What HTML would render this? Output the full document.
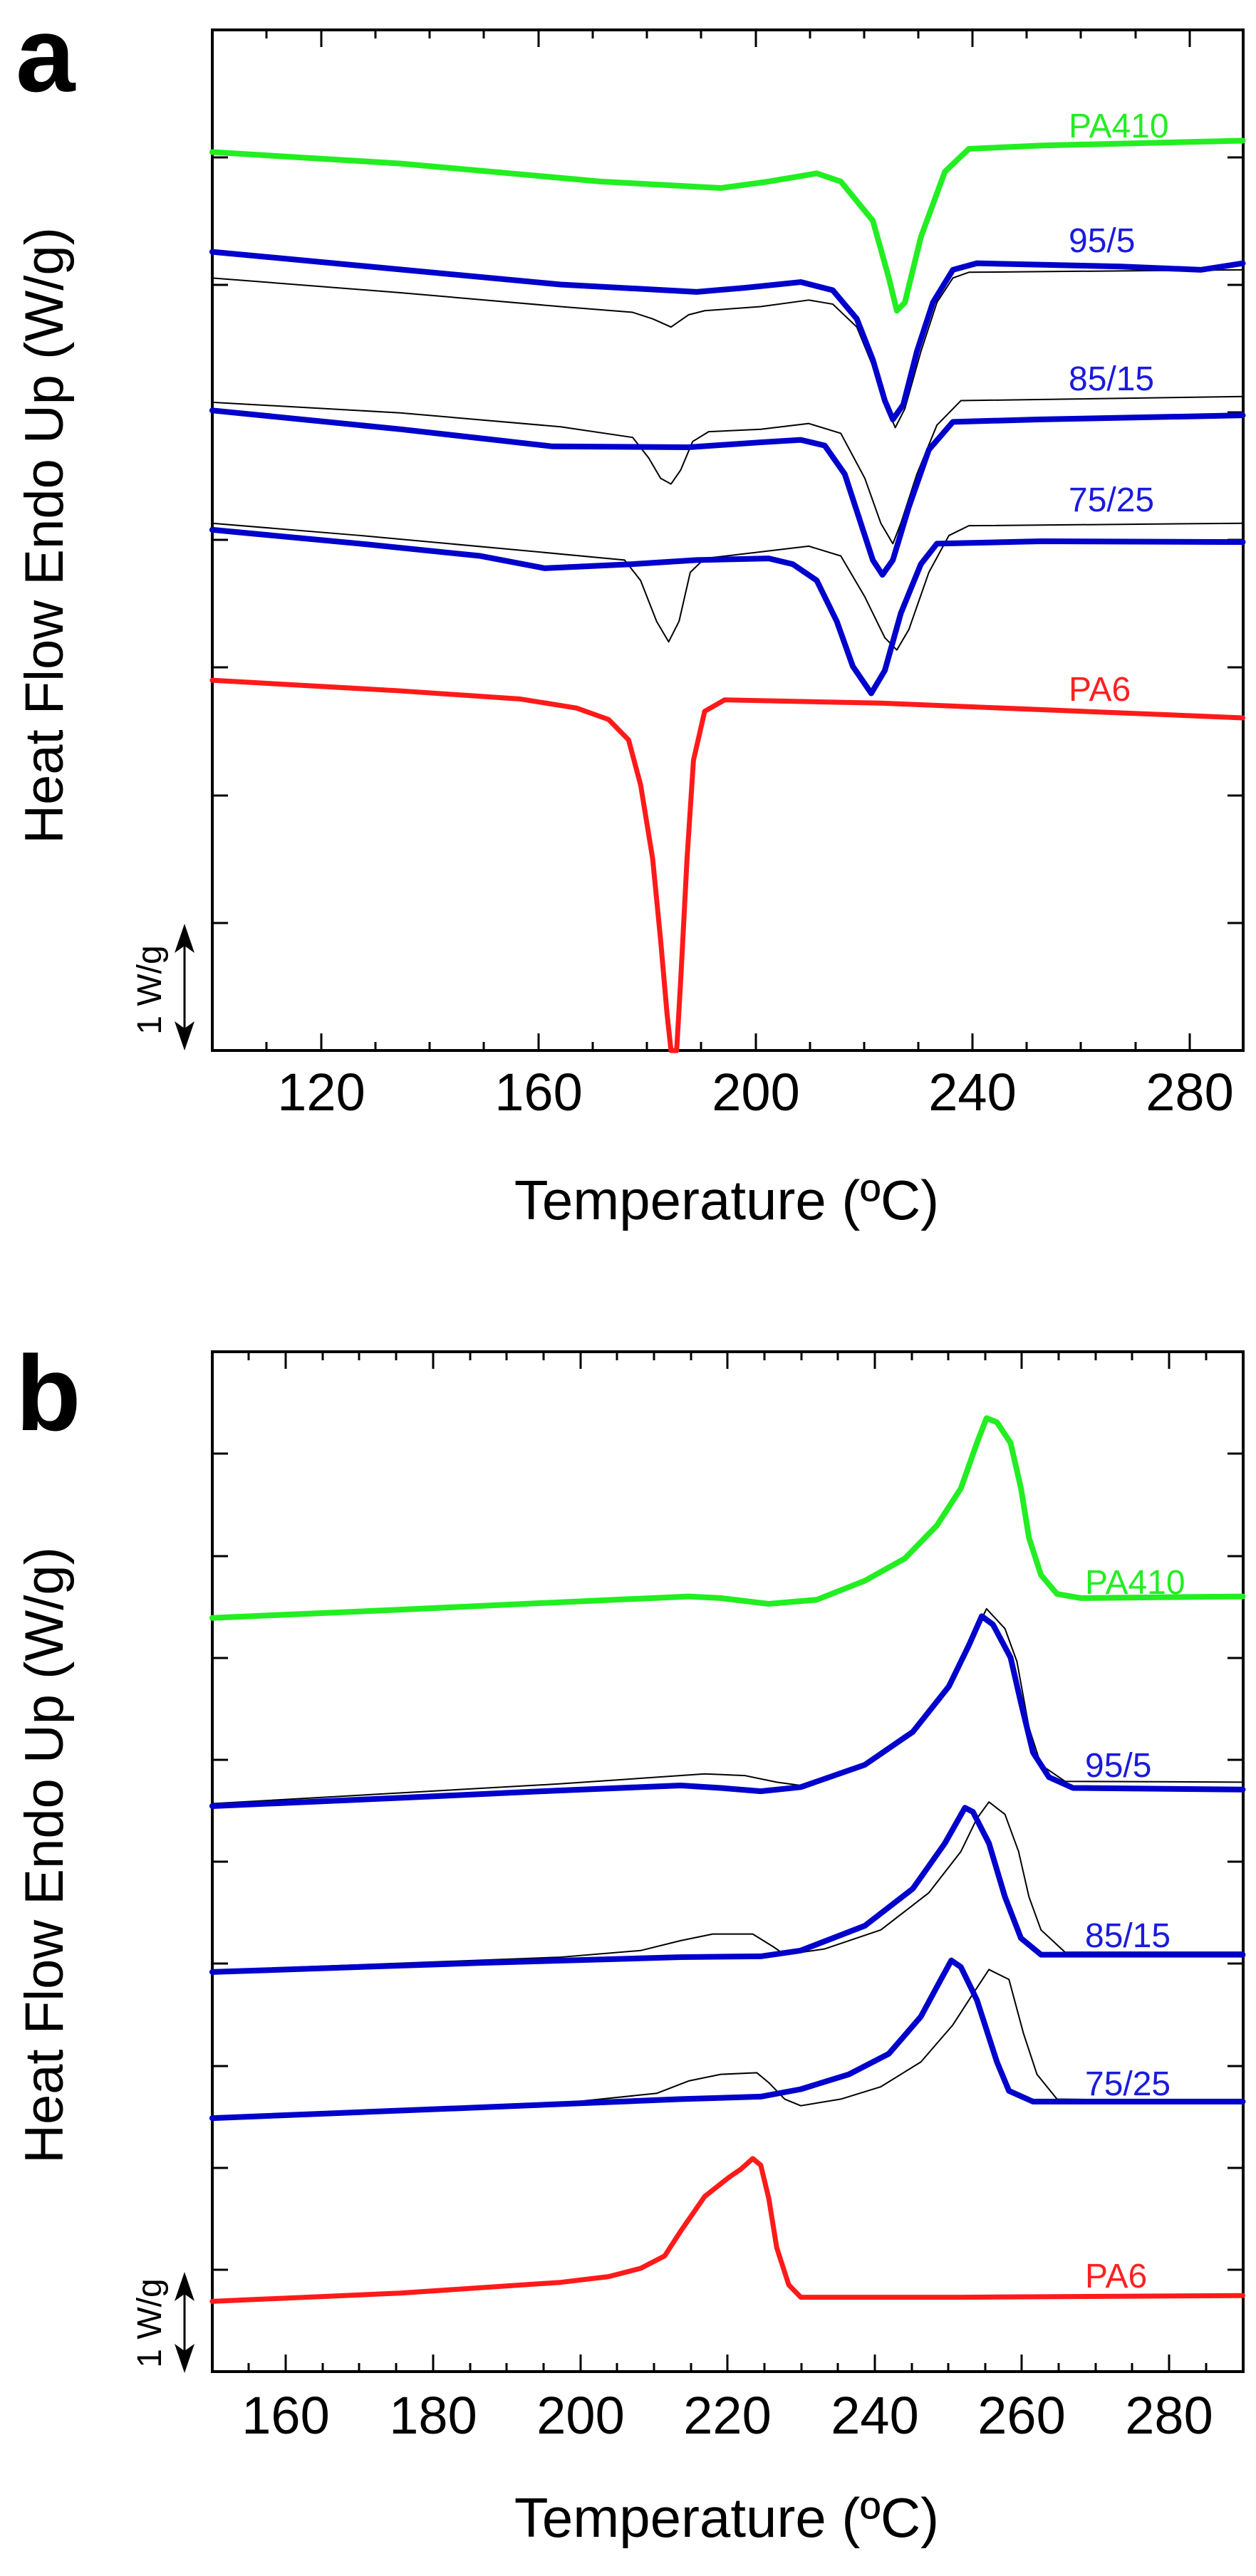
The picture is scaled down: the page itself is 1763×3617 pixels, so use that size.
<!DOCTYPE html>
<html><head><meta charset="utf-8"><style>
html,body{margin:0;padding:0;background:#fff;}
svg{display:block;font-family:"Liberation Sans",Arial,sans-serif;}
</style></head><body>
<svg width="1763" height="3617" viewBox="0 0 1763 3617" xmlns="http://www.w3.org/2000/svg">
<!-- PANEL A -->
<text x="22" y="128" font-size="150" font-weight="bold">a</text>
<text transform="translate(88,752) rotate(-90)" font-size="76" text-anchor="middle">Heat Flow Endo Up (W/g)</text>
<text x="1020" y="1712" font-size="78" text-anchor="middle">Temperature (ºC)</text>
<g font-size="74" text-anchor="middle">
<text x="451" y="1559">120</text><text x="756" y="1559">160</text><text x="1061" y="1559">200</text><text x="1365" y="1559">240</text><text x="1670" y="1559">280</text>
</g>
<rect x="298" y="42" width="1447" height="1433" fill="none" stroke="#000" stroke-width="4"/>
<g stroke="#000" stroke-width="3">
<path d="M374,1475v-12M451,1475v-24M527,1475v-12M603,1475v-12M679,1475v-12M756,1475v-24M832,1475v-12M908,1475v-12M984,1475v-12M1061,1475v-24M1137,1475v-12M1213,1475v-12M1289,1475v-12M1365,1475v-24M1441,1475v-12M1517,1475v-12M1594,1475v-12M1670,1475v-24"/>
<path d="M374,42v12M451,42v24M527,42v12M603,42v12M679,42v12M756,42v24M832,42v12M908,42v12M984,42v12M1061,42v24M1137,42v12M1213,42v12M1289,42v12M1365,42v24M1441,42v12M1517,42v12M1594,42v12M1670,42v24"/>
<path d="M298,221h22M298,400h22M298,579h22M298,758h22M298,937h22M298,1117h22M298,1296h22"/>
<path d="M1745,221h-22M1745,400h-22M1745,579h-22M1745,758h-22M1745,937h-22M1745,1117h-22M1745,1296h-22"/>
<path d="M259,1305V1465"/>
</g>
<path d="M259,1297 L245,1338 L259,1328 L273,1338 Z M259,1475 L245,1434 L259,1444 L273,1434 Z" fill="#000"/>
<text transform="translate(226,1390) rotate(-90)" font-size="48" text-anchor="middle">1 W/g</text>
<g font-size="48">
<text x="1500" y="193" fill="#22ee22">PA410</text>
<text x="1500" y="354" fill="#1a1add">95/5</text>
<text x="1500" y="548" fill="#1a1add">85/15</text>
<text x="1500" y="718" fill="#1a1add">75/25</text>
<text x="1500" y="984" fill="#ff2020">PA6</text>
</g>
<g transform="scale(1.124,1.148)" fill="none" stroke-linejoin="round" stroke-linecap="round">
<polyline vector-effect="non-scaling-stroke" stroke="#000" stroke-width="2" points="265,340 500,358 700,375 790,382 815,390 838,400 860,385 880,380 950,375 1010,367 1040,372 1070,400 1095,460 1110,505 1118,523 1130,500 1150,430 1170,370 1190,340 1210,333 1552,330"/>
<polyline vector-effect="non-scaling-stroke" stroke="#000" stroke-width="2" points="265,492 500,505 700,522 790,535 810,560 825,585 838,592 850,575 865,540 885,528 950,525 1010,518 1050,530 1080,585 1100,640 1115,665 1125,640 1145,580 1170,520 1200,490 1552,485"/>
<polyline vector-effect="non-scaling-stroke" stroke="#000" stroke-width="2" points="265,640 450,655 650,673 780,685 800,710 820,760 835,785 848,760 862,700 880,683 950,675 1010,668 1050,680 1080,730 1105,780 1120,795 1135,770 1160,700 1185,655 1210,643 1552,640"/>
<polyline vector-effect="non-scaling-stroke" stroke="#22ee22" stroke-width="8" points="265,186 500,200 750,222 900,230 960,222 1020,212 1050,222 1090,270 1110,340 1120,380 1130,370 1150,290 1180,210 1210,182 1300,178 1552,172"/>
<polyline vector-effect="non-scaling-stroke" stroke="#0000cc" stroke-width="8" points="265,308 450,325 700,348 870,357 930,352 1000,345 1040,355 1070,390 1090,440 1105,490 1115,513 1128,495 1145,430 1165,370 1190,330 1220,322 1400,326 1500,330 1552,322"/>
<polyline vector-effect="non-scaling-stroke" stroke="#0000cc" stroke-width="8" points="265,502 500,525 690,546 860,547 950,541 1000,538 1030,545 1055,580 1075,640 1090,685 1102,703 1115,685 1135,620 1160,550 1190,516 1300,513 1552,508"/>
<polyline vector-effect="non-scaling-stroke" stroke="#0000cc" stroke-width="8" points="265,648 450,665 600,680 680,695 790,690 870,685 960,683 990,690 1020,710 1045,760 1065,815 1088,848 1105,820 1125,750 1150,690 1170,665 1300,662 1552,663"/>
<polyline vector-effect="non-scaling-stroke" stroke="#ff1a1a" stroke-width="7" points="265,832 500,845 650,855 720,866 760,880 785,905 800,960 815,1050 825,1150 833,1240 838,1285 845,1285 850,1200 858,1050 866,930 880,870 905,856 1100,860 1552,878"/>
</g>
<!-- PANEL B -->
<text x="22" y="2008" font-size="150" font-weight="bold">b</text>
<text transform="translate(88,2605) rotate(-90)" font-size="76" text-anchor="middle">Heat Flow Endo Up (W/g)</text>
<text x="1020" y="3562" font-size="78" text-anchor="middle">Temperature (ºC)</text>
<g font-size="74" text-anchor="middle">
<text x="401" y="3417">160</text><text x="608" y="3417">180</text><text x="815" y="3417">200</text><text x="1021" y="3417">220</text><text x="1228" y="3417">240</text><text x="1434" y="3417">260</text><text x="1641" y="3417">280</text>
</g>
<rect x="298" y="1898" width="1447" height="1432" fill="none" stroke="#000" stroke-width="4"/>
<g stroke="#000" stroke-width="3">
<path d="M349,3330v-12M401,3330v-24M453,3330v-12M504,3330v-12M556,3330v-12M608,3330v-24M660,3330v-12M711,3330v-12M763,3330v-12M815,3330v-24M866,3330v-12M918,3330v-12M970,3330v-12M1021,3330v-24M1073,3330v-12M1125,3330v-12M1176,3330v-12M1228,3330v-24M1280,3330v-12M1331,3330v-12M1383,3330v-12M1434,3330v-24M1486,3330v-12M1538,3330v-12M1589,3330v-12M1641,3330v-24M1693,3330v-12"/>
<path d="M349,1898v12M401,1898v24M453,1898v12M504,1898v12M556,1898v12M608,1898v24M660,1898v12M711,1898v12M763,1898v12M815,1898v24M866,1898v12M918,1898v12M970,1898v12M1021,1898v24M1073,1898v12M1125,1898v12M1176,1898v12M1228,1898v24M1280,1898v12M1331,1898v12M1383,1898v12M1434,1898v24M1486,1898v12M1538,1898v12M1589,1898v12M1641,1898v24M1693,1898v12"/>
<path d="M298,2041h22M298,2185h22M298,2328h22M298,2471h22M298,2614h22M298,2757h22M298,2901h22M298,3044h22M298,3187h22"/>
<path d="M1745,2041h-22M1745,2185h-22M1745,2328h-22M1745,2471h-22M1745,2614h-22M1745,2757h-22M1745,2901h-22M1745,3044h-22M1745,3187h-22"/>
<path d="M259,3197V3325"/>
</g>
<path d="M259,3190 L245,3231 L259,3221 L273,3231 Z M259,3332 L245,3291 L259,3301 L273,3291 Z" fill="#000"/>
<text transform="translate(226,3262) rotate(-90)" font-size="48" text-anchor="middle">1 W/g</text>
<g font-size="48">
<text x="1523" y="2238" fill="#22ee22">PA410</text>
<text x="1523" y="2495" fill="#1a1add">95/5</text>
<text x="1523" y="2734" fill="#1a1add">85/15</text>
<text x="1523" y="2942" fill="#1a1add">75/25</text>
<text x="1523" y="3212" fill="#ff2020">PA6</text>
</g>
<g transform="translate(0,1800) scale(1.124,1.159)" fill="none" stroke-linejoin="round" stroke-linecap="round">
<polyline vector-effect="non-scaling-stroke" stroke="#000" stroke-width="2" points="265,632 700,608 880,596 930,598 970,606 1000,610 1080,585 1140,545 1185,490 1210,440 1232,396 1255,420 1270,460 1285,540 1300,585 1330,605 1552,606"/>
<polyline vector-effect="non-scaling-stroke" stroke="#000" stroke-width="2" points="265,834 700,818 800,810 850,798 890,790 940,790 965,805 980,815 1030,808 1100,785 1160,740 1200,690 1220,650 1235,630 1255,645 1272,690 1285,745 1300,785 1330,812 1552,812"/>
<polyline vector-effect="non-scaling-stroke" stroke="#000" stroke-width="2" points="265,1013 700,995 820,983 860,968 900,960 945,958 960,970 980,990 1000,998 1050,990 1100,975 1150,945 1190,900 1210,870 1235,833 1260,845 1278,910 1295,960 1320,990 1552,993"/>
<polyline vector-effect="non-scaling-stroke" stroke="#22ee22" stroke-width="8" points="265,407 500,397 700,388 860,381 900,383 960,390 1020,385 1080,362 1130,335 1170,295 1200,250 1220,195 1232,165 1245,170 1262,195 1275,250 1285,310 1300,355 1320,378 1350,383 1552,381"/>
<polyline vector-effect="non-scaling-stroke" stroke="#0000cc" stroke-width="8" points="265,635 500,625 700,616 850,610 900,613 950,617 1000,612 1080,585 1140,545 1185,490 1210,440 1226,405 1240,415 1262,455 1275,510 1290,570 1310,600 1340,613 1552,615"/>
<polyline vector-effect="non-scaling-stroke" stroke="#0000cc" stroke-width="8" points="265,836 600,825 850,818 950,817 1000,810 1080,780 1140,735 1180,680 1205,637 1215,642 1235,680 1255,745 1275,795 1300,815 1552,815"/>
<polyline vector-effect="non-scaling-stroke" stroke="#0000cc" stroke-width="8" points="265,1013 600,1000 850,990 950,987 1000,978 1060,960 1110,935 1150,890 1175,845 1188,822 1200,830 1220,870 1245,945 1260,980 1290,993 1552,993"/>
<polyline vector-effect="non-scaling-stroke" stroke="#ff1a1a" stroke-width="7" points="265,1235 500,1225 700,1212 760,1205 800,1195 830,1180 850,1150 880,1108 910,1085 925,1075 940,1062 950,1070 960,1110 970,1170 985,1215 1000,1230 1200,1230 1552,1228"/>
</g>
</svg>
</body></html>
